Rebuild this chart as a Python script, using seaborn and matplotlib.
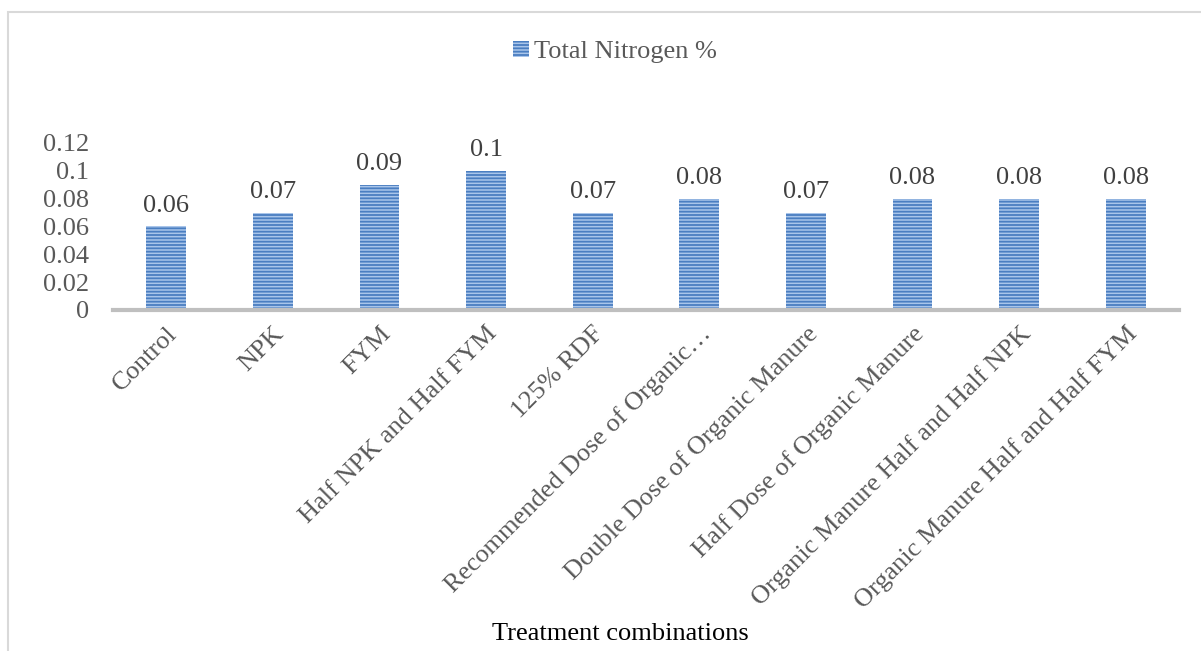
import matplotlib
matplotlib.use("Agg")
import matplotlib.pyplot as plt
import matplotlib.patches as mpatches
import seaborn as sns
import pandas as pd

treatments = [
    "Control", "NPK", "FYM", "Half NPK and Half FYM", "125% RDF",
    "Recommended Dose of Organic…", "Double Dose of Organic Manure",
    "Half Dose of Organic Manure", "Organic Manure Half and Half NPK",
    "Organic Manure Half and Half FYM",
]
nitrogen = [0.06, 0.07, 0.09, 0.1, 0.07, 0.08, 0.07, 0.08, 0.08, 0.08]
y_ticks = [0, 0.02, 0.04, 0.06, 0.08, 0.1, 0.12]
series_name = "Total Nitrogen %"

FS = 19

sns.set_theme(style="white")
plt.rcParams["font.family"] = ["Liberation Serif", "DejaVu Serif"]
plt.rcParams["hatch.linewidth"] = 1.3
plt.rcParams["hatch.color"] = "#4A7EC1"

df = pd.DataFrame({"Treatment": treatments, "N": nitrogen})

fig = plt.figure(figsize=(12.01, 6.51), dpi=100)
ax = fig.add_axes([113 / 1201, 1 - 310 / 651, (1179 - 113) / 1201, (310 - 143) / 651])

sns.barplot(data=df, x="Treatment", y="N", color="#A9C5EA", width=0.375,
            saturation=1, ax=ax)
for p in ax.patches:
    p.set_hatch("-----")
    p.set_edgecolor("#4A7EC1")
    p.set_linewidth(0)

for p, v in zip(ax.patches, nitrogen):
    ax.annotate(f"{v:g}", (p.get_x() + p.get_width() / 2, p.get_height()),
                xytext=(0, 7), textcoords="offset points", ha="center",
                va="bottom", fontsize=FS, color="#404040")

ax.set_ylim(0, 0.12)
ax.set_yticks(y_ticks)
ax.set_yticklabels([f"{t:g}" for t in y_ticks], fontsize=FS, color="#595959")
ax.set_xlim(-0.5, len(treatments) - 0.5)
ax.set_xticks(range(len(treatments)))
ax.set_xticklabels(treatments, rotation=45, ha="right", rotation_mode="anchor",
                   fontsize=FS, color="#595959")
ax.tick_params(axis="both", length=0)
ax.tick_params(axis="y", pad=17)
ax.tick_params(axis="x", pad=9)
ax.set_ylabel("")
ax.set_xlabel("")
for s in ["top", "right", "left"]:
    ax.spines[s].set_visible(False)
ax.spines["bottom"].set_color("#BFBFBF")
ax.spines["bottom"].set_linewidth(3)
ax.grid(False)

fig.text(620 / 1201, 1 - 634 / 651, "Treatment combinations", ha="center",
         va="center", fontsize=FS, color="black")

handle = mpatches.Patch(facecolor="#A9C5EA", edgecolor="#4A7EC1", hatch="-----",
                        linewidth=0, label=series_name)
fig.legend(handles=[handle], loc="center", bbox_to_anchor=(615 / 1201, 1 - 52 / 651),
           frameon=False, fontsize=FS, labelcolor="#595959", handlelength=0.6,
           handleheight=0.6, handletextpad=0.2)

fig.patches.append(mpatches.Rectangle((8 / 1201, -0.1), 1.2, 1 - 12 / 651 + 0.1,
                                      transform=fig.transFigure, fill=False,
                                      edgecolor="#D9D9D9", linewidth=1.5))

fig.savefig("out.png", dpi=100, facecolor="white")
